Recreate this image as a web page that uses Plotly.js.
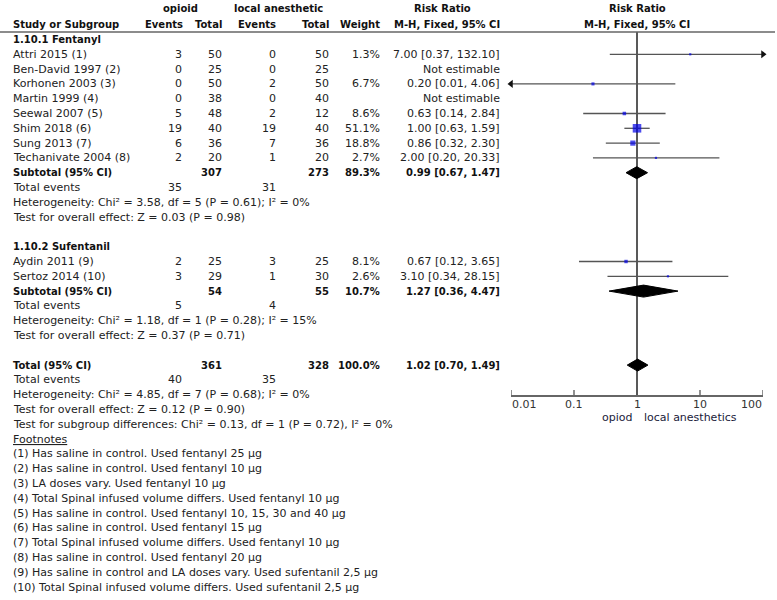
<!DOCTYPE html>
<html>
<head>
<meta charset="utf-8">
<script src="https://cdn.plot.ly/plotly-3.0.1.min.js"></script>
<style>html,body{margin:0;padding:0;background:#fff;}#chart{width:777px;height:600px;}</style>
</head>
<body>
<div id="chart"></div>
<script>
// ---------- data ----------
const fenStudies = ["Attri 2015 (1)", "Ben-David 1997 (2)", "Korhonen 2003 (3)", "Martin 1999 (4)", "Seewal 2007 (5)", "Shim 2018 (6)", "Sung 2013 (7)", "Techanivate 2004 (8)"];
const fenOpEvents = [3, 0, 0, 0, 5, 19, 6, 2];
const fenOpTotal = [50, 25, 50, 38, 48, 40, 36, 20];
const fenLaEvents = [0, 0, 2, 0, 2, 19, 7, 1];
const fenLaTotal = [50, 25, 50, 40, 12, 40, 36, 20];
const fenWeight = [1.3, null, 6.7, null, 8.6, 51.1, 18.8, 2.7];
const fenRR = [7.00, null, 0.20, null, 0.63, 1.00, 0.86, 2.00];
const fenLo = [0.37, null, 0.01, null, 0.14, 0.63, 0.32, 0.20];
const fenHi = [132.10, null, 4.06, null, 2.84, 1.59, 2.30, 20.33];

const sufStudies = ["Aydin 2011 (9)", "Sertoz 2014 (10)"];
const sufOpEvents = [2, 3];
const sufOpTotal = [25, 29];
const sufLaEvents = [3, 1];
const sufLaTotal = [25, 30];
const sufWeight = [8.1, 2.6];
const sufRR = [0.67, 3.10];
const sufLo = [0.12, 0.34];
const sufHi = [3.65, 28.15];

const groupNames = ["1.10.1 Fentanyl", "1.10.2 Sufentanil"];
const subOpTotal = [307, 54];
const subLaTotal = [273, 55];
const subWeight = [89.3, 10.7];
const subRR = [0.99, 1.27];
const subLo = [0.67, 0.36];
const subHi = [1.47, 4.47];
const subOpEvents = [35, 5];
const subLaEvents = [31, 4];
const subHet = ["Heterogeneity: Chi² = 3.58, df = 5 (P = 0.61); I² = 0%", "Heterogeneity: Chi² = 1.18, df = 1 (P = 0.28); I² = 15%"];
const subTest = ["Test for overall effect: Z = 0.03 (P = 0.98)", "Test for overall effect: Z = 0.37 (P = 0.71)"];

const totOpTotal = 361, totLaTotal = 328, totWeight = 100.0;
const totRR = 1.02, totLo = 0.70, totHi = 1.49;
const totOpEvents = 40, totLaEvents = 35;
const totHet = "Heterogeneity: Chi² = 4.85, df = 7 (P = 0.68); I² = 0%";
const totTest = "Test for overall effect: Z = 0.12 (P = 0.90)";
const subgroupTest = "Test for subgroup differences: Chi² = 0.13, df = 1 (P = 0.72), I² = 0%";

const footnotes = [
  "(1) Has saline in control. Used fentanyl 25 μg",
  "(2) Has saline in control. Used fentanyl 10 μg",
  "(3) LA doses vary. Used fentanyl 10 μg",
  "(4) Total Spinal infused volume differs. Used fentanyl 10 μg",
  "(5) Has saline in control. Used fentanyl 10, 15, 30 and 40 μg",
  "(6) Has saline in control. Used fentanyl 15 μg",
  "(7) Total Spinal infused volume differs. Used fentanyl 10 μg",
  "(8) Has saline in control. Used fentanyl 20 μg",
  "(9) Has saline in control and LA doses vary. Used sufentanil 2,5 μg",
  "(10) Total Spinal infused volume differs. Used sufentanil 2,5 μg"
];
const axisTicks = [0.01, 0.1, 1, 10, 100];
const axisTickText = ["0.01", "0.1", "1", "10", "100"];
const favLeft = "opiod", favRight = "local anesthetics";

// ---------- layout helpers ----------
const W = 777, H = 600;
const rowY = i => 39.5 + i * 14.8;
const FONT = "DejaVu Sans";
const TXT = "#222";
const ann = [];
function T(text, x, y, anchor, bold) {
  ann.push({
    text: bold ? "<b>" + text + "</b>" : text,
    xref: "paper", yref: "y", x: x / W, y: y,
    xanchor: anchor || "left", yanchor: "middle", showarrow: false,
    font: {family: FONT, size: bold ? 10 : 11, color: bold ? "#111" : TXT},
    borderpad: 0
  });
}
const fmtRR = (r, l, h) => r.toFixed(2) + " [" + l.toFixed(2) + ", " + h.toFixed(2) + "]";
const fmtW = w => w.toFixed(1) + "%";

// columns (pixel)
const cName = 12, cOpE = 183, cOpT = 223, cLaE = 277, cLaT = 330, cW = 381, cRR = 501;

// header
T("opioid", 180, 8, "center", true);
T("local anesthetic", 278, 8, "center", true);
T("Risk Ratio", 442, 8, "center", true);
T("Risk Ratio", 637, 8, "center", true);
T("Study or Subgroup", cName, 24, "left", true);
T("Events", cOpE + 1, 24, "right", true);
T("Total", cOpT, 24, "right", true);
T("Events", cLaE, 24, "right", true);
T("Total", cLaT, 24, "right", true);
T("Weight", cW, 24, "right", true);
T("M-H, Fixed, 95% CI", cRR, 24, "right", true);
T("M-H, Fixed, 95% CI", 637, 24, "center", true);

// rows
const ciRows = [];   // {lo,hi,rr,w,y}
const diamonds = []; // {lo,hi,rr,y}
const groups = [
  {names: fenStudies, oe: fenOpEvents, ot: fenOpTotal, le: fenLaEvents, lt: fenLaTotal, w: fenWeight, rr: fenRR, lo: fenLo, hi: fenHi, start: 0},
  {names: sufStudies, oe: sufOpEvents, ot: sufOpTotal, le: sufLaEvents, lt: sufLaTotal, w: sufWeight, rr: sufRR, lo: sufLo, hi: sufHi, start: 14}
];
groups.forEach((g, gi) => {
  let r = g.start;
  T(groupNames[gi], cName, rowY(r), "left", true);
  g.names.forEach((n, i) => {
    r++;
    const y = rowY(r);
    T(n, cName, y);
    T(String(g.oe[i]), cOpE, y, "right");
    T(String(g.ot[i]), cOpT, y, "right");
    T(String(g.le[i]), cLaE, y, "right");
    T(String(g.lt[i]), cLaT, y, "right");
    if (g.rr[i] === null) {
      T("Not estimable", cRR, y, "right");
    } else {
      T(fmtW(g.w[i]), cW, y, "right");
      T(fmtRR(g.rr[i], g.lo[i], g.hi[i]), cRR, y, "right");
      ciRows.push({lo: g.lo[i], hi: g.hi[i], rr: g.rr[i], w: g.w[i], y: y});
    }
  });
  r++;
  let y = rowY(r);
  T("Subtotal (95% CI)", cName, y, "left", true);
  T(String(subOpTotal[gi]), cOpT, y, "right", true);
  T(String(subLaTotal[gi]), cLaT, y, "right", true);
  T(fmtW(subWeight[gi]), cW, y, "right", true);
  T(fmtRR(subRR[gi], subLo[gi], subHi[gi]), cRR, y, "right", true);
  diamonds.push({lo: subLo[gi], hi: subHi[gi], rr: subRR[gi], y: y});
  r++; y = rowY(r);
  T("Total events", cName, y);
  T(String(subOpEvents[gi]), cOpE, y, "right");
  T(String(subLaEvents[gi]), cLaE, y, "right");
  r++; T(subHet[gi], cName, rowY(r));
  r++; T(subTest[gi], cName, rowY(r));
});
let r = 22;
let y = rowY(r);
T("Total (95% CI)", cName, y, "left", true);
T(String(totOpTotal), cOpT, y, "right", true);
T(String(totLaTotal), cLaT, y, "right", true);
T(fmtW(totWeight), cW, y, "right", true);
T(fmtRR(totRR, totLo, totHi), cRR, y, "right", true);
diamonds.push({lo: totLo, hi: totHi, rr: totRR, y: y});
r++; y = rowY(r);
T("Total events", cName, y);
T(String(totOpEvents), cOpE, y, "right");
T(String(totLaEvents), cLaE, y, "right");
r++; T(totHet, cName, rowY(r));
r++; T(totTest, cName, rowY(r));
r++; T(subgroupTest, cName, rowY(r));
r++; T("<u>Footnotes</u>", cName, rowY(r));
footnotes.forEach(f => { r++; T(f, cName, rowY(r)); });

// axis tick labels and favours labels
const axisY = 395;
axisTicks.forEach((v, i) => {
  ann.push({
    text: axisTickText[i], xref: "x", yref: "y", x: Math.log10(v), y: 404,
    xanchor: i === 0 ? "left" : (i === axisTicks.length - 1 ? "right" : "center"),
    yanchor: "middle", showarrow: false, borderpad: 0,
    font: {family: FONT, size: 11, color: "#333"}
  });
});
ann.push({text: favLeft, xref: "x", yref: "y", x: Math.log10(1) - 0.07, y: 417, xanchor: "right", yanchor: "middle", showarrow: false, borderpad: 0, font: {family: FONT, size: 11, color: "#1a1a3a"}});
ann.push({text: favRight, xref: "x", yref: "y", x: Math.log10(1) + 0.09, y: 417, xanchor: "left", yanchor: "middle", showarrow: false, borderpad: 0, font: {family: FONT, size: 11, color: "#1a1a3a"}});

// ---------- traces ----------
const traces = [];
// vertical line of no effect
traces.push({x: [1, 1], y: [32, axisY], mode: "lines", line: {color: "#222", width: 1.5}, hoverinfo: "skip", showlegend: false});
// tick marks on the log axis
const tkx = [], tky = [];
axisTicks.forEach((v, i) => {
  const end = (i === 0 || i === axisTicks.length - 1);
  tkx.push(v, v, null); tky.push(axisY - 5, axisY + (end ? 2 : 0.5), null);
});
traces.push({x: tkx, y: tky, mode: "lines", line: {color: "#555", width: 1.3}, cliponaxis: false, hoverinfo: "skip", showlegend: false});
// CI lines
const cx = [], cy = [];
ciRows.forEach(c => { cx.push(c.lo, c.hi, null); cy.push(c.y, c.y, null); });
traces.push({x: cx, y: cy, mode: "lines", line: {color: "#555", width: 1.3}, hoverinfo: "skip", showlegend: false});
// arrows for CIs beyond axis
const arR = ciRows.filter(c => c.hi > 100), arL = ciRows.filter(c => c.lo <= 0.01);
traces.push({x: arR.map(() => 100), y: arR.map(c => c.y), mode: "markers", marker: {symbol: "triangle-right", size: 7, color: "#111"}, cliponaxis: false, hoverinfo: "skip", showlegend: false});
traces.push({x: arL.map(() => 0.01), y: arL.map(c => c.y), mode: "markers", marker: {symbol: "triangle-left", size: 7, color: "#111"}, cliponaxis: false, hoverinfo: "skip", showlegend: false});
// squares
traces.push({x: ciRows.map(c => c.rr), y: ciRows.map(c => c.y), mode: "markers",
  marker: {symbol: "square", color: "#0000e6", size: ciRows.map(c => Math.max(2.2, 1.2 * Math.sqrt(c.w))), line: {width: 0}},
  hoverinfo: "skip", showlegend: false});
// diamonds
diamonds.forEach(d => {
  const h = 6;
  traces.push({x: [d.lo, d.rr, d.hi, d.rr, d.lo], y: [d.y, d.y - h, d.y, d.y + h, d.y], mode: "lines", fill: "toself",
    fillcolor: "#000", line: {color: "#000", width: 1}, hoverinfo: "skip", showlegend: false});
});

const layout = {
  width: W, height: H, margin: {l: 0, r: 0, t: 0, b: 0, pad: 0},
  paper_bgcolor: "#fff", plot_bgcolor: "rgba(0,0,0,0)",
  showlegend: false,
  xaxis: {type: "log", range: [-2, 2], domain: [511 / W, 763 / W], anchor: "free", position: (H - axisY) / H,
    showline: true, linecolor: "#666", linewidth: 1.5, ticks: "",
    tickvals: axisTicks, showticklabels: false, showgrid: false, zeroline: false, fixedrange: true},
  yaxis: {range: [H, 0], domain: [0, 1], visible: false, showgrid: false, zeroline: false, fixedrange: true},
  shapes: [{type: "line", xref: "paper", yref: "y", x0: 0, x1: 775 / W, y0: 32, y1: 32, line: {color: "#666", width: 1.5}}],
  annotations: ann,
  font: {family: FONT, color: TXT}
};
Plotly.newPlot("chart", traces, layout, {displayModeBar: false, staticPlot: true});
</script>
</body>
</html>
